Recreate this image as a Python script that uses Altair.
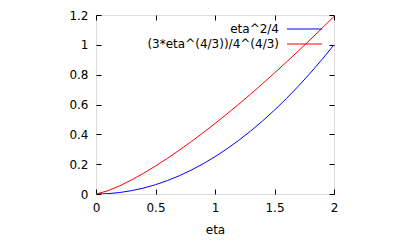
import altair as alt
import pandas as pd

eta = [0.0, 0.1, 0.2, 0.3, 0.4, 0.5, 0.6, 0.7, 0.8, 0.9, 1.0,
       1.1, 1.2, 1.3, 1.4, 1.5, 1.6, 1.7, 1.8, 1.9, 2.0]
blue_vals = [0.0, 0.0025, 0.01, 0.0225, 0.04, 0.0625, 0.09, 0.1225, 0.16, 0.2025, 0.25,
             0.3025, 0.36, 0.4225, 0.49, 0.5625, 0.64, 0.7225, 0.81, 0.9025, 1.0]
red_vals = [0.0, 0.02193, 0.05526, 0.09489, 0.13925, 0.18750, 0.23910, 0.29365, 0.35091, 0.41055, 0.47247,
            0.53650, 0.60249, 0.67033, 0.73996, 0.81127, 0.88416, 0.95860, 1.03448, 1.11180, 1.19055]
series_names = ["eta^2/4", "(3*eta^(4/3))/4^(4/3)"]
series_colors = ["#0000ff", "#ff0000"]
x_ticks = [0, 0.5, 1, 1.5, 2]
y_ticks = [0, 0.2, 0.4, 0.6, 0.8, 1, 1.2]

rows = []
for e, b, r in zip(eta, blue_vals, red_vals):
    rows.append({"eta": e, "value": b, "series": series_names[0]})
    rows.append({"eta": e, "value": r, "series": series_names[1]})
df = pd.DataFrame(rows)

FONT = "DejaVu Sans"
xs = alt.Scale(domain=[0, 2], nice=False, zero=False)
ys = alt.Scale(domain=[0, 1.2], nice=False, zero=False)
cs = alt.Scale(domain=series_names, range=series_colors)

def tick_axis(orient):
    return alt.Axis(orient=orient, values=x_ticks if orient in ("bottom", "top") else y_ticks,
                    labels=False, domain=False, ticks=True, tickSize=5, offset=-5,
                    tickColor="#000000", tickWidth=1, grid=False, title=None)

base = alt.Chart(df)

main = base.mark_line(strokeWidth=1, clip=True).encode(
    x=alt.X("eta:Q", scale=xs, title="eta",
            axis=alt.Axis(orient="bottom", values=x_ticks, ticks=False, domain=False,
                          labelPadding=8, labelFontSize=12, labelFont=FONT, labelColor="#000",
                          titleFont=FONT, titleFontSize=12, titleFontWeight="normal",
                          titlePadding=11, titleColor="#000", grid=False,
                          labelFlush=False, labelOverlap=False, format="~g")),
    y=alt.Y("value:Q", scale=ys, title=None,
            axis=alt.Axis(orient="left", values=y_ticks, ticks=False, domain=False,
                          labelPadding=8, labelFontSize=12, labelFont=FONT, labelColor="#000",
                          grid=False, labelFlush=False, labelOverlap=False, format="~g")),
    color=alt.Color("series:N", scale=cs, legend=None),
    detail="series:N",
)

ticks1 = base.mark_line(opacity=0).encode(
    x=alt.X("eta:Q", scale=xs, axis=tick_axis("bottom")),
    y=alt.Y("value:Q", scale=ys, axis=tick_axis("left")),
    detail="series:N",
)
ticks2 = base.mark_line(opacity=0).encode(
    x=alt.X("eta:Q", scale=xs, axis=tick_axis("top")),
    y=alt.Y("value:Q", scale=ys, axis=tick_axis("right")),
    detail="series:N",
)

leg_df = pd.DataFrame({"series": series_names})
leg_y = [14, 29]
legend_layers = []
for name, col, yy in zip(series_names, series_colors, leg_y):
    d = leg_df[leg_df["series"] == name]
    legend_layers.append(
        alt.Chart(d).mark_text(align="right", baseline="middle", font=FONT, fontSize=12,
                               color="#000").encode(
            text="series:N", x=alt.value(183), y=alt.value(yy))
    )
    legend_layers.append(
        alt.Chart(d).mark_rule(color=col, strokeWidth=1).encode(
            x=alt.value(191), x2=alt.value(226), y=alt.value(yy))
    )

chart = alt.layer(main, ticks1, ticks2, *legend_layers).resolve_axis(
    x="independent", y="independent"
).properties(
    width=238, height=179,
    autosize=alt.AutoSizeParams(type="none"),
    padding={"left": 88, "top": 7, "right": 60, "bottom": 42},
).configure_view(stroke="#000000", strokeWidth=1).configure(background="white")

chart.save("out.html", embed_options={"renderer": "svg", "actions": False})
